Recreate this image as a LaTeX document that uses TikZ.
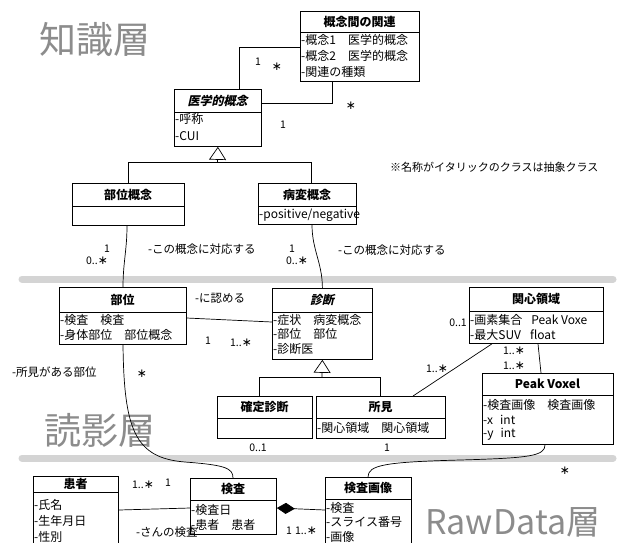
\documentclass[tikz,border=0pt]{standalone}
\usepackage{fontspec}
\setmainfont{Noto Sans CJK JP}
\newfontfamily\absfont{Noto Sans CJK JP}[FakeSlant=0.22]
\newfontfamily\symbfont{DejaVu Sans}
\usetikzlibrary{arrows.meta}
\definecolor{bandgray}{HTML}{D4D4D4}
\definecolor{layergray}{HTML}{8C8C8C}
\newcommand{\attrgap}{\hspace{12pt}}
\newcommand{\mstar}{{\symbfont\fontsize{12}{12}\selectfont ∗}}
\tikzset{
  clsbox/.style={draw, line width=0.8pt, inner sep=0pt, fill=white},
  clstitle/.style={font=\fontsize{12}{14}\selectfont\bfseries, inner sep=0pt},
  abstitle/.style={font=\fontsize{12}{14}\selectfont\absfont\bfseries, inner sep=0pt},
  attr/.style={font=\fontsize{12}{14}\selectfont, anchor=west, inner sep=0pt},
  mult/.style={font=\fontsize{10.5}{12}\selectfont, inner sep=0pt},
  rolelbl/.style={font=\fontsize{11.5}{13}\selectfont, anchor=west, inner sep=0pt},
  notelbl/.style={font=\fontsize{11}{13}\selectfont, anchor=west, inner sep=0pt},
  conn/.style={line width=0.7pt},
  gentip/.style={-{Triangle[open,length=13pt,width=17pt]}},
  band/.style={line width=7pt, draw=bandgray, line cap=round},
  layer/.style={text=layergray, inner sep=0pt, anchor=west},
}
% id, x1, y1, x2, y2, ysep, title
\newcommand{\umlclass}[8][clstitle]{%
  \node[clsbox, minimum width={#5pt-#3pt}, minimum height={#6pt-#4pt}, anchor=north west] (#2) at (#3,#4) {};
  \draw[line width=0.8pt] (#3,#7) -- (#5,#7);
  \node[#1] (#2-title) at ({(#3+#5)/2},{(#4+#7)/2}) {#8};
}
\begin{document}
\begin{tikzpicture}[x=1pt,y=-1pt]
\clip (0,0) rectangle (617,542);
\fill[white] (0,0) rectangle (617,542);

% layer bands
\draw[band] (22,279) -- (613,279);
\draw[band] (22,458) -- (613,458);

% layer labels
\node[layer, font=\fontsize{37}{40}\selectfont] (lay1) at (39,40) {知識層};
\node[layer, font=\fontsize{37}{40}\selectfont] (lay2) at (44,430) {読影層};
\node[layer, font=\fontsize{34}{38}\selectfont] (lay3) at (425,522) {RawData層};

% classes
\umlclass[abstitle]{ig}{174}{89}{261}{146}{112}{医学的概念}
\node[attr] (ig-a1) at (175,119) {-呼称};
\node[attr] (ig-a2) at (175,136) {-CUI};

\umlclass{kr}{300}{11}{419}{81}{32}{概念間の関連}
\node[attr] (kr-a1) at (301,40) {-概念1\attrgap 医学的概念};
\node[attr] (kr-a2) at (301,56) {-概念2\attrgap 医学的概念};
\node[attr] (kr-a3) at (301,72) {-関連の種類};

\umlclass{bg}{72}{183}{184}{225}{206}{部位概念}
\umlclass{bh}{258}{183}{356}{224}{206}{病変概念}
\node[attr] (bh-a1) at (259,215) {-positive/negative};

\umlclass{bui}{59}{287}{186}{344}{312}{部位}
\node[attr] (bui-a1) at (60,320) {-検査\attrgap 検査};
\node[attr] (bui-a2) at (60,335) {-身体部位\attrgap 部位概念};

\umlclass[abstitle]{sd}{272}{288}{372}{359}{312}{診断}
\node[attr] (sd-a1) at (273,320) {-症状\attrgap 病変概念};
\node[attr] (sd-a2) at (273,334) {-部位\attrgap 部位};
\node[attr] (sd-a3) at (273,349) {-診断医};

\umlclass{kk}{469}{287}{603}{343}{311}{関心領域}
\node[attr] (kk-a1) at (470,320) {-画素集合\hspace{9pt}Peak Voxe};
\node[attr] (kk-a2) at (470,335) {-最大SUV\hspace{9pt}float};

\umlclass{pv}{482}{373}{613}{444}{395}{Peak Voxel}
\node[attr] (pv-a1) at (483,405) {-検査画像\attrgap 検査画像};
\node[attr] (pv-a2) at (483,420) {-x\hspace{7pt}int};
\node[attr] (pv-a3) at (483,434) {-y\hspace{7pt}int};

\umlclass{kt}{217}{396}{312}{438}{418}{確定診断}
\umlclass{sk}{316}{396}{445}{438}{418}{所見}
\node[attr] (sk-a1) at (317,428) {-関心領域\attrgap 関心領域};

\umlclass{kj}{33}{476}{118}{570}{492}{患者}
\node[attr] (kj-a1) at (34,505) {-氏名};
\node[attr] (kj-a2) at (34,521) {-生年月日};
\node[attr] (kj-a3) at (34,537) {-性別};

\umlclass{ks}{190}{478}{276}{534}{500}{検査}
\node[attr] (ks-a1) at (191,510) {-検査日};
\node[attr] (ks-a2) at (191,525) {-患者\attrgap 患者};

\umlclass{gz}{325}{477}{411}{570}{499}{検査画像}
\node[attr] (gz-a1) at (326,508) {-検査};
\node[attr] (gz-a2) at (326,522) {-スライス番号};
\node[attr] (gz-a3) at (326,537) {-画像};

% junctions
\coordinate (j1) at (217.5,162);
\coordinate (j2) at (322,377);

% connectors
\draw[conn] ([xshift=65]ig.north west) |- ([yshift=-36]kr.north west);
\draw[conn] ([xshift=32]kr.south west) |- ([yshift=-14]ig.north east);

\draw[conn] (bg.north) |- (j1);
\draw[conn] ([xshift=53]bh.north west) |- (j1);
\draw[conn,gentip] (j1) -- (ig.south);

\draw[conn] ([xshift=55]bg.south west) to[out=-90,in=90] ([xshift=64]bui.north west);
\draw[conn] ([xshift=54]bh.south west) to[out=-90,in=90] (sd.north);

\draw[conn] ([yshift=-31]bui.north east) -- ([yshift=-34]sd.north west);

\draw[conn] ([xshift=42]kt.north west) |- (j2);
\draw[conn] ([xshift=64]sk.north west) |- (j2);
\draw[conn,gentip] (j2) -- (sd.south);

\draw[conn] ([xshift=23]kk.south west) -- ([xshift=97]sk.north west);
\draw[conn] ([xshift=69]kk.south west) -- ([xshift=59]pv.north west);

\draw[conn] ([xshift=64]bui.south west) .. controls (124,430) and (135,458) .. (185,462) .. controls (225,465) and (233,468) .. ([xshift=43]ks.north west);
\draw[conn] ([xshift=63]pv.south west) .. controls (545,456) and (530,458) .. (460,460) .. controls (385,462) and (368,465) .. ([xshift=43]gz.north west);

\draw[conn] ([yshift=-34]kj.north east) -- ([yshift=-30]ks.north west);
\draw[conn,{Diamond[length=18pt,width=11pt]}-] ([yshift=-30]ks.north east) -- ([yshift=-33]gz.north west);

% labels
\node[mult] (m1) at (258,62) {1};
\node[mult] (m2) at (277,67) {\mstar};
\node[mult] (m3) at (351,106) {\mstar};
\node[mult] (m4) at (283,125) {1};
\node[notelbl] (note) at (390,167) {※名称がイタリックのクラスは抽象クラス};
\node[mult] (m5) at (107,249) {1};
\node[mult] (m6) at (97,261) {0..\mstar};
\node[rolelbl] (r1) at (148,249) {-この概念に対応する};
\node[mult] (m7) at (292,249) {1};
\node[mult] (m8) at (297,261) {0..\mstar};
\node[rolelbl] (r2) at (338,250) {-この概念に対応する};
\node[rolelbl] (r3) at (195,298) {-に認める};
\node[mult] (m9) at (208,341) {1};
\node[mult] (m10) at (241,343) {1..\mstar};
\node[mult] (m11) at (458,323) {0..1};
\node[mult] (m12) at (437,369) {1..\mstar};
\node[mult] (m13) at (514,351) {1..\mstar};
\node[mult] (m14) at (514,366) {1..\mstar};
\node[rolelbl] (r4) at (12,372) {-所見がある部位};
\node[mult] (m15) at (142,374) {\mstar};
\node[mult] (m16) at (258,448) {0..1};
\node[mult] (m17) at (387,448) {1};
\node[mult] (m18) at (565,471) {\mstar};
\node[mult] (m19) at (143,485) {1..\mstar};
\node[mult] (m20) at (168,483) {1};
\node[rolelbl] (r5) at (136,532) {-さんの検査};
\node[mult] (m21) at (289,531) {1};
\node[mult] (m22) at (306,531) {1..\mstar};
\end{tikzpicture}
\end{document}
